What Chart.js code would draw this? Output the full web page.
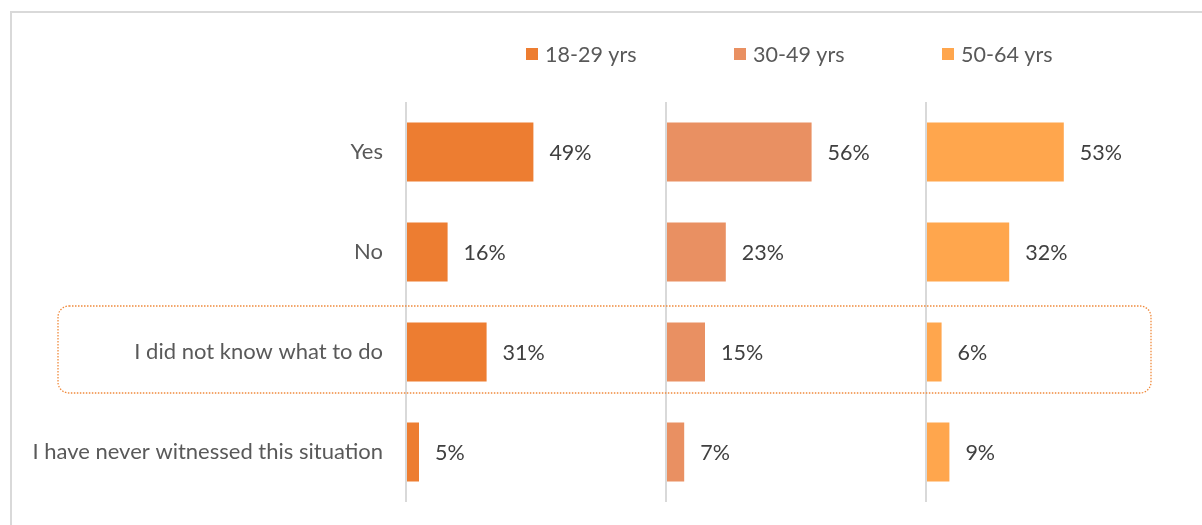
<!DOCTYPE html>
<html lang="en">
<head>
    <meta charset="UTF-8">
    <title>Reaction by age group</title>
    <script src="https://cdn.jsdelivr.net/npm/chart.js"></script>
    <style>
        body { margin: 0; overflow: hidden; background: #fff; }
        .frame {
            position: absolute; left: 10px; top: 11px; width: 1400px; height: 700px;
            border-top: 2px solid #d9d9d9; border-left: 2px solid #d9d9d9;
        }
        #answersChart { position: absolute; left: 0; top: 0; }
    </style>
</head>
<body>
    <div class="frame"></div>
    <canvas id="answersChart" width="1202" height="525"></canvas>

    <script>
        const categories = ['Yes', 'No', 'I did not know what to do', 'I have never witnessed this situation'];
        const ageGroups = ['18-29 yrs', '30-49 yrs', '50-64 yrs'];
        const values18to29 = [49, 16, 31, 5];
        const values30to49 = [56, 23, 15, 7];
        const values50to64 = [53, 32, 6, 9];
        const groupColors = ['#ED7D31', '#E99062', '#FFA64D'];
        const highlightRow = 2;

        const textFont = 'Lato, "DejaVu Sans", sans-serif';

        // percent labels to the right of each bar
        const valueLabels = {
            id: 'valueLabels',
            afterDatasetsDraw(chart) {
                const ctx = chart.ctx;
                ctx.save();
                ctx.font = '21.5px ' + textFont;
                ctx.fillStyle = '#404040';
                ctx.textAlign = 'left';
                ctx.textBaseline = 'middle';
                chart.data.datasets.forEach((ds, i) => {
                    chart.getDatasetMeta(i).data.forEach((bar, j) => {
                        ctx.fillText(ds.data[j] + '%', bar.x + 16, bar.y + 1);
                    });
                });
                ctx.restore();
            }
        };

        // dotted rounded box around the highlighted answer
        const highlightBox = {
            id: 'highlightBox',
            afterDraw(chart) {
                const area = chart.chartArea;
                const y = chart.scales.y.getPixelForValue(highlightRow);
                const ctx = chart.ctx;
                ctx.save();
                ctx.strokeStyle = '#F08A3C';
                ctx.lineWidth = 1.3;
                ctx.setLineDash([1.5, 1.5]);
                ctx.beginPath();
                ctx.roundRect(area.left - 348, y - 46, area.right - 35 - (area.left - 348), 87, 11);
                ctx.stroke();
                ctx.restore();
            }
        };

        // legend row across the top
        const topLegend = {
            id: 'topLegend',
            afterDraw(chart) {
                const ctx = chart.ctx;
                ctx.save();
                ctx.font = '21.5px ' + textFont;
                ctx.textAlign = 'left';
                ctx.textBaseline = 'middle';
                chart.data.datasets.forEach((ds, i) => {
                    const x = 526 + i * 208;
                    ctx.fillStyle = ds.backgroundColor;
                    ctx.fillRect(x, 48, 12, 12);
                    ctx.fillStyle = '#595959';
                    ctx.fillText(ds.label, x + 19, 55);
                });
                ctx.restore();
            }
        };

        const panelAxis = () => ({
            type: 'linear',
            position: 'bottom',
            stack: 'panels',
            stackWeight: 1,
            min: 0,
            max: 100,
            ticks: { display: false },
            border: { display: false },
            grid: {
                drawTicks: false,
                lineWidth: 2,
                color: c => (c.tick && c.tick.value === 0) ? '#d9d9d9' : 'rgba(0,0,0,0)'
            },
            afterFit: s => { s.height = 0; }
        });

        new Chart(document.getElementById('answersChart'), {
            type: 'bar',
            data: {
                labels: categories,
                datasets: [
                    { label: ageGroups[0], data: values18to29, backgroundColor: groupColors[0], xAxisID: 'x0' },
                    { label: ageGroups[1], data: values30to49, backgroundColor: groupColors[1], xAxisID: 'x1' },
                    { label: ageGroups[2], data: values50to64, backgroundColor: groupColors[2], xAxisID: 'x2' }
                ].map(ds => Object.assign(ds, { grouped: false, barPercentage: 0.59, categoryPercentage: 1 }))
            },
            options: {
                responsive: false,
                animation: false,
                indexAxis: 'y',
                layout: { padding: { top: 102, bottom: 23, left: 0, right: 16 } },
                plugins: {
                    legend: { display: false },
                    tooltip: { enabled: false }
                },
                scales: {
                    x0: panelAxis(),
                    x1: panelAxis(),
                    x2: panelAxis(),
                    y: {
                        grid: { display: false, drawTicks: false },
                        border: { display: false },
                        ticks: {
                            color: '#595959',
                            padding: 23,
                            font: { family: textFont, size: 22 }
                        },
                        afterFit: s => {
                            s.width = 406;
                            s.paddingTop = 0;
                            s.paddingBottom = 0;
                        }
                    }
                }
            },
            plugins: [valueLabels, highlightBox, topLegend]
        });
    </script>
</body>
</html>
